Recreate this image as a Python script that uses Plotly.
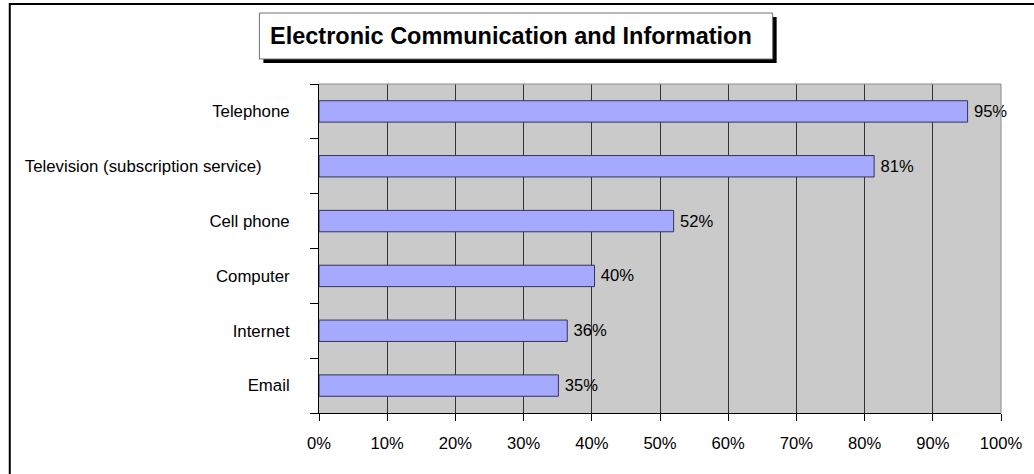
import plotly.graph_objects as go

# ---- data ----
categories = ["Telephone", "Television (subscription service)", "Cell phone",
              "Computer", "Internet", "Email"]
values = [95.1, 81.4, 52.0, 40.4, 36.4, 35.1]
x_ticks = [0, 10, 20, 30, 40, 50, 60, 70, 80, 90, 100]
x_tick_labels = ["0%", "10%", "20%", "30%", "40%", "50%", "60%", "70%", "80%", "90%", "100%"]
title_text = "Electronic Communication and Information"

# ---- layout geometry (pixels) ----
W, H = 1034, 474
L, R, T, B = 319, 1006, 84, 413
FONT = "Liberation Sans, Arial, sans-serif"


def px_x(p):
    return (p - L) / (R - L)


def px_y(p):
    return (B - p) / (B - T)


# tick text: the long label sits a bit further left in the original
ticktext = [c + ("\u00a0" * 6 if c.startswith("Television") else "") for c in categories]

fig = go.Figure()
fig.add_trace(go.Bar(
    y=categories,
    x=values,
    orientation="h",
    marker=dict(color="#A6AAFF", line=dict(color="#33335A", width=1)),
    texttemplate="\u2009%{x:.0f}%",
    textposition="outside",
    textfont=dict(family=FONT, size=16.6, color="black"),
    cliponaxis=False,
    hoverinfo="skip",
))

shapes = []
# outer chart border (right/bottom lie outside the picture)
shapes.append(dict(type="rect", xref="paper", yref="paper", layer="above",
                   x0=px_x(7.5), x1=px_x(W + 20), y0=px_y(4), y1=px_y(H + 20),
                   line=dict(color="black", width=2), fillcolor="rgba(0,0,0,0)"))
# plot area top / right border (gray)
shapes.append(dict(type="line", xref="paper", yref="paper", layer="above",
                   x0=0, x1=1, y0=1, y1=1, line=dict(color="#8C8C8C", width=1)))
shapes.append(dict(type="line", xref="paper", yref="paper", layer="above",
                   x0=1, x1=1, y0=0, y1=1, line=dict(color="#8C8C8C", width=1)))
# title box shadow and box
bx0, bx1, by0, by1 = 259, 776, 13, 59
shapes.append(dict(type="rect", xref="paper", yref="paper", layer="above",
                   x0=px_x(bx0 + 4), x1=px_x(bx1 + 4), y0=px_y(by0 + 4), y1=px_y(by1 + 4),
                   line=dict(width=0), fillcolor="black"))
shapes.append(dict(type="rect", xref="paper", yref="paper", layer="above",
                   x0=px_x(bx0), x1=px_x(bx1), y0=px_y(by0), y1=px_y(by1),
                   line=dict(color="#707070", width=1), fillcolor="white"))

fig.update_layout(
    width=W, height=H,
    margin=dict(l=L, r=W - R, t=T, b=H - B, pad=0),
    paper_bgcolor="white",
    plot_bgcolor="#CACACA",
    showlegend=False,
    bargap=0.61,
    font=dict(family=FONT, size=16, color="black"),
    shapes=shapes,
    annotations=[dict(
        text="<b>" + title_text + "</b>",
        xref="paper", yref="paper",
        x=px_x(512), y=px_y((by0 + by1) / 2),
        xanchor="center", yanchor="middle", showarrow=False,
        font=dict(family=FONT, size=23.5, color="black"),
    )],
    xaxis=dict(
        range=[0, 100],
        tickvals=x_ticks, ticktext=x_tick_labels,
        showgrid=True, gridcolor="#333333", gridwidth=1,
        zeroline=False,
        showline=True, linecolor="black", linewidth=1,
        ticks="outside", ticklen=7, tickcolor="black", tickwidth=1,
        ticklabelstandoff=8,
        tickfont=dict(family=FONT, size=16.6, color="black"),
        fixedrange=True,
    ),
    yaxis=dict(
        type="category",
        categoryorder="array", categoryarray=categories,
        tickvals=categories, ticktext=ticktext,
        autorange="reversed",
        showgrid=False, zeroline=False,
        showline=True, linecolor="black", linewidth=1,
        ticks="outside", ticklen=8, tickcolor="black", tickwidth=1,
        tickson="boundaries",
        ticklabelstandoff=25,
        tickfont=dict(family=FONT, size=16.8, color="black"),
        fixedrange=True,
    ),
)

fig.write_html("out.html")
